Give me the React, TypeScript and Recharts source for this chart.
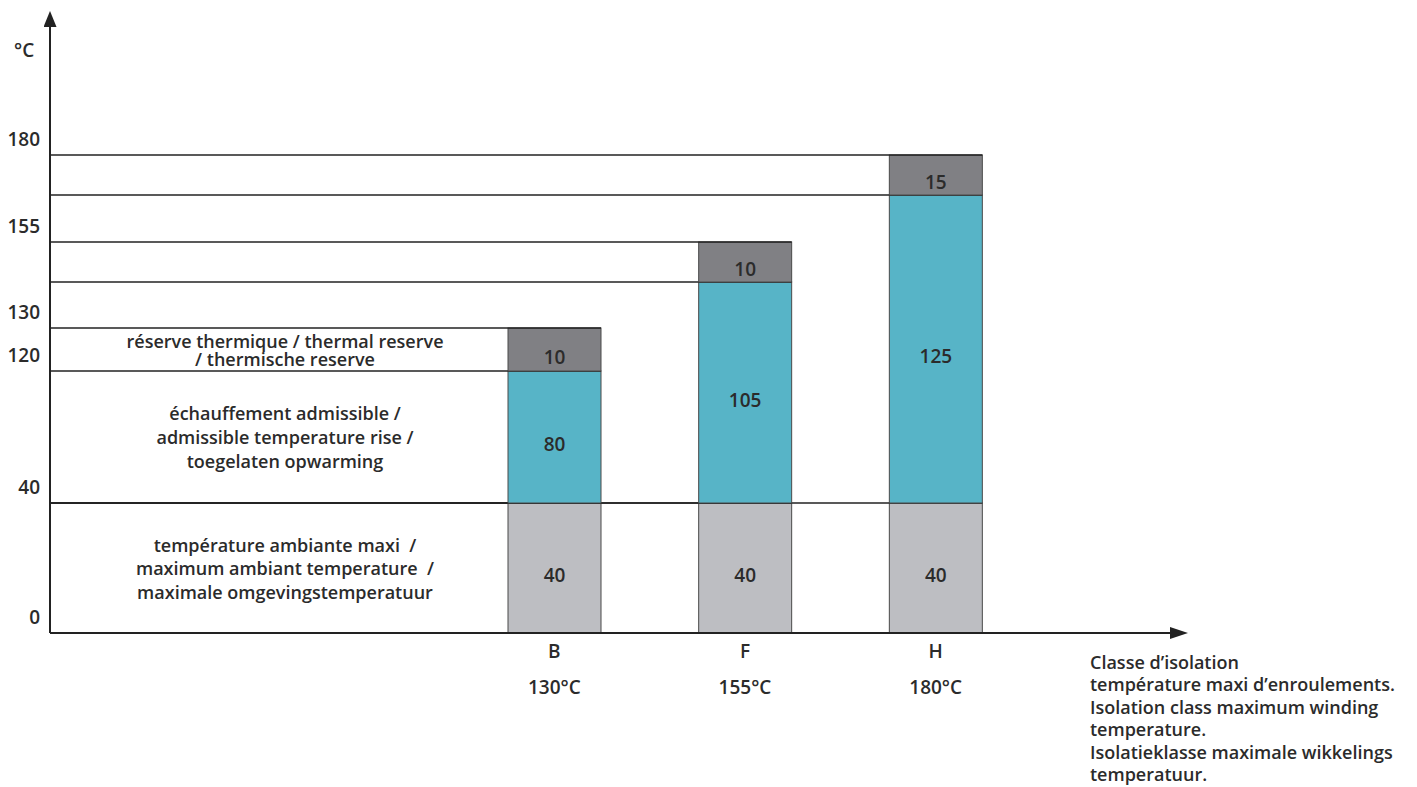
import React from 'react';
import { BarChart, Bar, XAxis, YAxis, LabelList } from 'recharts';

const classes = ['B', 'F', 'H'];
const windingTemps = ['130°C', '155°C', '180°C'];
const ambient = [40, 40, 40];
const rise = [80, 105, 125];
const reserve = [10, 10, 15];
const tempTicks = [0, 40, 120, 130, 155, 180];

const ambientText = ['température ambiante maxi  /', 'maximum ambiant temperature  /', 'maximale omgevingstemperatuur'];
const riseText = ['échauffement admissible /', 'admissible temperature rise /', 'toegelaten opwarming'];
const reserveText = ['réserve thermique / thermal reserve', '/ thermische reserve'];
const captionText = [
  'Classe d’isolation',
  'température maxi d’enroulements.',
  'Isolation class maximum winding',
  'temperature.',
  'Isolatieklasse maximale wikkelings',
  'temperatuur.',
];

const data = classes.map((cls, i) => ({ cls, ambient: ambient[i], rise: rise[i], reserve: reserve[i] }));

// The drawing is a schematic: the temperature axis is not linear,
// every level of the stack gets its own drawing height (piecewise scale).
const AXIS_TOP = 240;
const levels = Array.from(
  new Set([
    0,
    ...ambient,
    ...ambient.map((a, i) => a + rise[i]),
    ...ambient.map((a, i) => a + rise[i] + reserve[i]),
    AXIS_TOP,
  ]),
).sort((a, b) => a - b);
const levelHeights = [0, 130, 262, 305, 351, 391, 438, 478, 606];

function schematicScale(): any {
  let dom = [0, AXIS_TOP];
  let rng = [0, 1];
  const total = levelHeights[levelHeights.length - 1];
  const frac = (v: number) => {
    if (v <= levels[0]) return 0;
    for (let i = 1; i < levels.length; i++) {
      if (v <= levels[i]) {
        const t = (v - levels[i - 1]) / (levels[i] - levels[i - 1]);
        return (levelHeights[i - 1] + t * (levelHeights[i] - levelHeights[i - 1])) / total;
      }
    }
    return 1;
  };
  const s: any = (v: number) => rng[0] + frac(v) * (rng[1] - rng[0]);
  s.domain = (d?: number[]) => {
    if (d === undefined) return dom.slice();
    dom = d.slice();
    return s;
  };
  s.range = (r?: number[]) => {
    if (r === undefined) return rng.slice();
    rng = r.slice();
    return s;
  };
  s.ticks = () => tempTicks.slice();
  s.tickFormat = () => (v: number) => String(v);
  s.nice = () => s;
  s.clamp = () => s;
  s.copy = () => schematicScale().domain(dom).range(rng);
  s.invert = (px: number) => {
    const f = (px - rng[0]) / (rng[1] - rng[0]);
    const h = f * total;
    for (let i = 1; i < levelHeights.length; i++) {
      if (h <= levelHeights[i]) {
        const t = (h - levelHeights[i - 1]) / (levelHeights[i] - levelHeights[i - 1]);
        return levels[i - 1] + t * (levels[i] - levels[i - 1]);
      }
    }
    return levels[levels.length - 1];
  };
  return s;
}

const FONT = "'Open Sans', sans-serif";
const INK = '#2b2b2b';
const PLOT_LEFT = 50;

const Segment = (props: any) => {
  const { x, y, width, height, fill } = props;
  return (
    <g>
      <rect x={x} y={y} width={width} height={height} fill={fill} stroke="#4a4a4a" strokeWidth={1} />
      <line x1={PLOT_LEFT} x2={x + width} y1={y} y2={y} stroke="#222" strokeWidth={1.6} />
    </g>
  );
};

const makeSegmentLabel = (lines: string[], gap: number) => (props: any) => {
  const vb = props.viewBox && props.viewBox.width !== undefined ? props.viewBox : props;
  const { x, y, width, height } = vb;
  const cx = x + width / 2;
  const cy = y + height / 2;
  const dx = (PLOT_LEFT + x) / 2 + 6;
  return (
    <g>
      <text x={cx} y={cy + 7} textAnchor="middle" dominantBaseline="central" fill={INK} fontFamily={FONT} fontSize={19} fontWeight={600}>
        {props.value}
      </text>
      {props.index === 0 && (
        <text textAnchor="middle" fill={INK} fontFamily={FONT} fontSize={18} fontWeight={600} style={{ whiteSpace: 'pre' }}>
          {lines.map((l, i) => (
            <tspan key={i} x={dx} y={cy - ((lines.length - 1) * gap) / 2 + i * gap} dominantBaseline="central">
              {l}
            </tspan>
          ))}
        </text>
      )}
    </g>
  );
};

const ClassTick = (props: any) => {
  const { x, y, payload } = props;
  const i = classes.indexOf(payload.value);
  return (
    <g fill={INK} fontFamily={FONT} fontSize={19} fontWeight={600}>
      <text x={x} y={y + 18} textAnchor="middle" dominantBaseline="central">{payload.value}</text>
      <text x={x} y={y + 54} textAnchor="middle" dominantBaseline="central">{windingTemps[i]}</text>
    </g>
  );
};

const TempTick = (props: any) => {
  const { x, y, payload } = props;
  return (
    <text x={x - 10} y={y - 16} textAnchor="end" dominantBaseline="central" fill={INK} fontFamily={FONT} fontSize={19} fontWeight={600}>
      {payload.value}
    </text>
  );
};

const UnitLabel = (props: any) => {
  const vb = props.viewBox || { x: 0, y: 0 };
  return (
    <text x={vb.x + 14} y={vb.y + 23} dominantBaseline="central" fill={INK} fontFamily={FONT} fontSize={19} fontWeight={600}>
      °C
    </text>
  );
};

const Caption = (props: any) => {
  const vb = props.viewBox || { x: 0, y: 0, width: 0 };
  return (
    <text fill={INK} fontFamily={FONT} fontSize={18} fontWeight={600}>
      {captionText.map((l, i) => (
        <tspan key={i} x={vb.x + vb.width - 80} y={vb.y + 29 + i * 22.4} dominantBaseline="central">
          {l}
        </tspan>
      ))}
    </text>
  );
};

export default function App() {
  return (
    <div style={{ position: 'absolute', left: 0, top: 0, width: 1417, height: 787, overflow: 'hidden', background: '#fff' }}>
      <svg width={0} height={0} style={{ position: 'absolute' }}>
        <defs>
          <marker id="arrowY" viewBox="0 0 16 13" refX={0} refY={6.5} markerWidth={16} markerHeight={13} markerUnits="userSpaceOnUse" orient="auto-start-reverse">
            <path d="M0,0 L16,6.5 L0,13 z" fill="#222" />
          </marker>
          <marker id="arrowX" viewBox="0 0 18 12" refX={0} refY={6} markerWidth={18} markerHeight={12} markerUnits="userSpaceOnUse" orient="auto">
            <path d="M0,0 L18,6 L0,12 z" fill="#222" />
          </marker>
        </defs>
      </svg>
      <BarChart width={1417} height={787} data={data} margin={{ top: 27, right: 247, bottom: 0, left: 0 }} barSize={93}>
        <XAxis
          dataKey="cls"
          height={154}
          padding={{ left: 409, right: 139 }}
          axisLine={{ stroke: '#222', strokeWidth: 2, markerEnd: 'url(#arrowX)' }}
          tickLine={false}
          tickSize={0}
          tickMargin={0}
          interval={0}
          tick={<ClassTick />}
          label={(p: any) => <Caption {...p} />}
        />
        <YAxis
          width={50}
          type="number"
          scale={schematicScale()}
          domain={[0, AXIS_TOP]}
          ticks={tempTicks}
          interval={0}
          axisLine={{ stroke: '#222', strokeWidth: 2, markerStart: 'url(#arrowY)' }}
          tickLine={false}
          tickSize={0}
          tickMargin={0}
          tick={<TempTick />}
          label={(p: any) => <UnitLabel {...p} />}
        />
        <Bar dataKey="ambient" stackId="t" fill="#bdbec2" shape={<Segment />} isAnimationActive={false}>
          <LabelList dataKey="ambient" content={makeSegmentLabel(ambientText, 23.5)} />
        </Bar>
        <Bar dataKey="rise" stackId="t" fill="#57b4c7" shape={<Segment />} isAnimationActive={false}>
          <LabelList dataKey="rise" content={makeSegmentLabel(riseText, 24)} />
        </Bar>
        <Bar dataKey="reserve" stackId="t" fill="#808084" shape={<Segment />} isAnimationActive={false}>
          <LabelList dataKey="reserve" content={makeSegmentLabel(reserveText, 18)} />
        </Bar>
      </BarChart>
    </div>
  );
}
